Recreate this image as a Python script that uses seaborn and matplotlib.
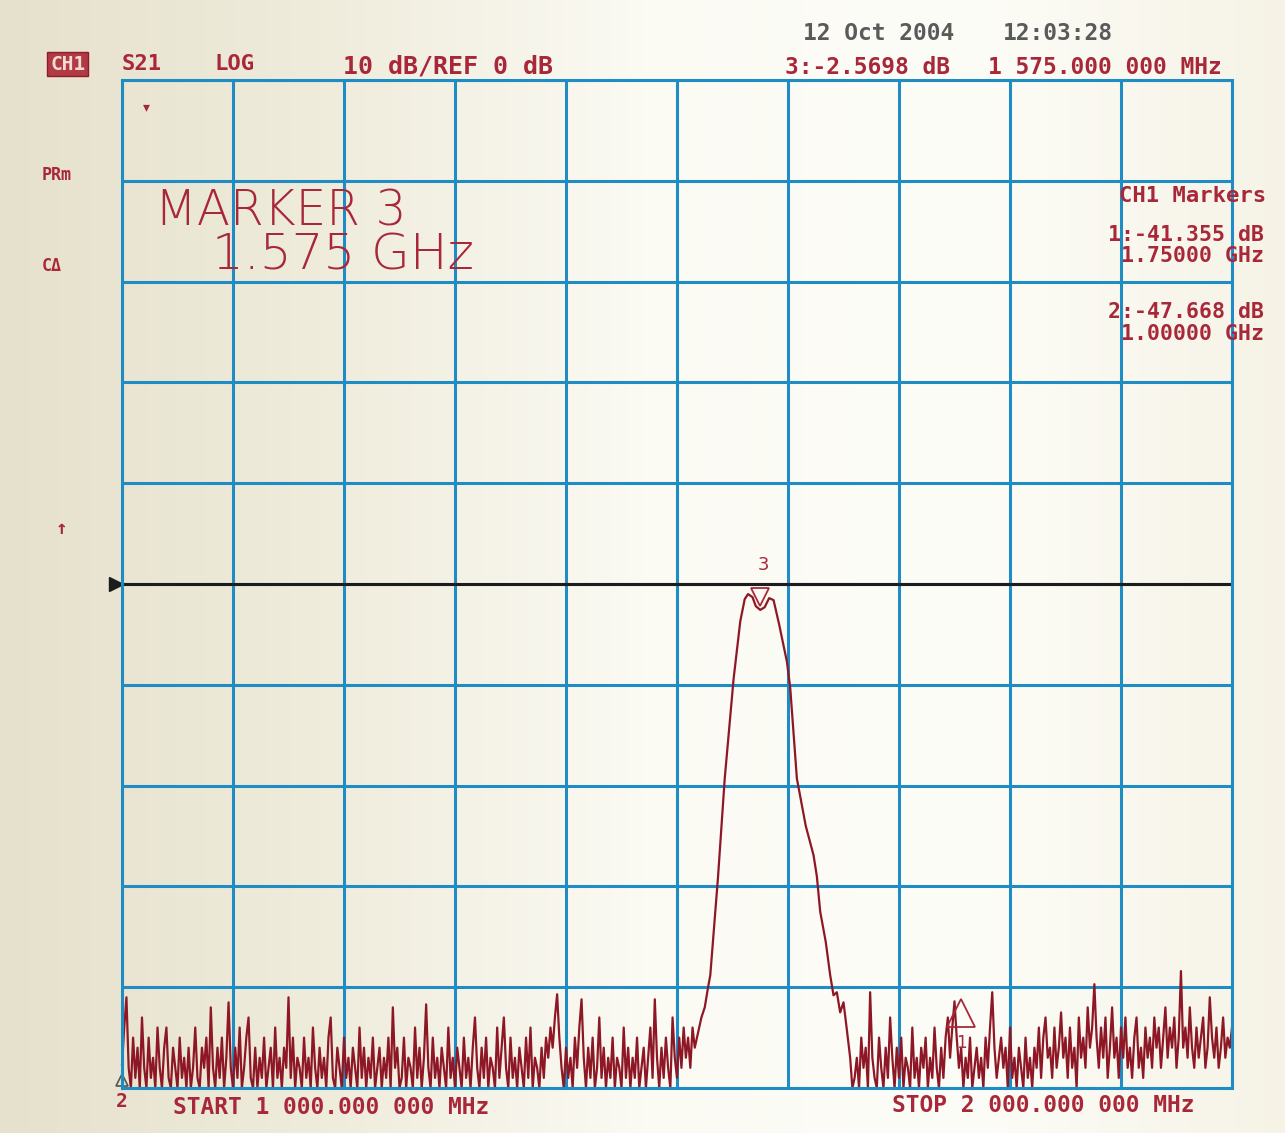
import numpy as np
import pandas as pd
import matplotlib
matplotlib.use('Agg')
import matplotlib.pyplot as plt
from matplotlib.colors import LinearSegmentedColormap
import seaborn as sns

# Sweep: 1000 - 2000 MHz, 10 dB/div, ref 0 dB
noise_low_start, noise_low_step = 1000, 2
noise_low_db = [
    -47.7, -44, -41, -48, -50, -45, -49, -46, -50, -43,
    -48, -50, -45, -49, -47, -50, -44, -48, -50, -46,
    -44, -49, -50, -46, -48, -50, -45, -49, -47, -50,
    -46, -50, -48, -44, -49, -50, -46, -48, -45, -50,
    -42, -48, -50, -46, -49, -45, -50, -47, -41.5, -48,
    -50, -46, -49, -44, -50, -48, -45, -43, -49, -50,
    -46, -50, -47, -49, -45, -50, -48, -46, -50, -44,
    -49, -47, -50, -46, -48, -41, -49, -45, -50, -47,
    -48, -50, -45, -49, -47, -50, -44, -48, -50, -46,
    -49, -47, -50, -45, -43, -49, -50, -46, -48, -50,
    -45, -49, -47, -50, -46, -48, -50, -44, -49, -46,
    -50, -47, -49, -45, -50, -48, -46, -50, -47, -49,
    -45, -50, -42, -48, -46, -50, -49, -45, -50, -47,
    -48, -50, -44, -49, -46, -50, -47, -41.7, -48, -50,
    -45, -49, -47, -50, -46, -48, -50, -44, -49, -47,
    -50, -46, -48, -50, -45, -49, -47, -50, -46, -43,
    -48, -50, -46, -49, -45, -50, -47, -48, -50, -44,
    -49, -46, -43, -48, -50, -45, -49, -47, -50, -46,
    -48, -50, -45, -49, -44, -50, -47, -48, -50, -46,
    -49, -45, -47, -44, -46, -43, -40.7, -45, -48, -50,
    -46, -49, -47, -50, -45, -48, -44, -41.2, -47, -50,
    -46, -49, -45, -50, -48, -43, -49, -46, -50, -47,
    -49, -45, -50, -47, -48, -50, -44, -49, -46, -50,
    -47, -49, -45, -50, -48, -46, -50, -47, -44, -49,
    -41.2, -47, -50, -46, -49, -45, -48, -50, -43, -47,
    -49, -45, -48, -44, -47, -45, -48, -44, -46, -45,
    -44,
]

peak_mhz = [1522, 1525, 1528, 1530, 1537, 1543, 1551, 1557, 1561, 1564,
            1568, 1571, 1575, 1579, 1583, 1587, 1592, 1599, 1602, 1608,
            1616, 1623, 1626, 1629, 1634, 1638, 1641, 1644, 1647, 1650,
            1653, 1656]
peak_db = [-43, -42, -40, -38.8, -29, -19.3, -9.4, -3.7, -1.5, -1.0,
           -1.3, -2.2, -2.57, -2.3, -1.4, -1.6, -4, -7.7, -10.3, -19.3,
           -24, -26.9, -29, -32.5, -35.5, -38.8, -40.8, -40.5, -42.5, -41.5,
           -44.2, -47]

noise_high_start, noise_high_step = 1658, 2
noise_high_db = [
    -50, -49, -47, -50, -45, -48, -46, -50, -40.5, -47,
    -49, -50, -45, -48, -50, -46, -49, -43, -47, -50,
    -46, -49, -45, -50, -47, -48, -50, -44, -49, -47,
    -50, -46, -48, -45, -50, -47, -49, -44, -48, -50,
    -46, -49, -45, -43, -47, -44, -41.4, -45, -48, -46,
    -50, -47, -49, -45, -50, -48, -46, -49, -47, -50,
    -45, -48, -44, -40.5, -46, -49, -47, -45, -48, -46,
    -50, -44, -49, -47, -50, -46, -48, -50, -45, -49,
    -47, -50, -46, -48, -44, -49, -45, -43, -47, -46,
    -49, -44, -48, -46, -42.5, -47, -45, -49, -44, -48,
    -46, -50, -43, -47, -45, -48, -42, -46, -44, -39.7,
    -45, -48, -44, -47, -43, -49, -46, -42, -47, -45,
    -49, -44, -47, -43, -48, -46, -49, -45, -43, -48,
    -46, -49, -44, -47, -45, -48, -43, -46, -44, -48,
    -45, -42, -47, -44, -46, -43, -48, -45, -38.4, -46,
    -44, -47, -42, -46, -48, -44, -47, -45, -43, -48,
    -46, -41, -45, -47, -44, -48, -46, -43, -47, -45,
    -46, -44,
]

markers = {'1': (1750, -41.355), '2': (1000, -47.668), '3': (1575, -2.5698)}

low_mhz = noise_low_start + noise_low_step * np.arange(len(noise_low_db))
high_mhz = noise_high_start + noise_high_step * np.arange(len(noise_high_db))
df = pd.DataFrame({
    'freq': np.concatenate([low_mhz, peak_mhz, high_mhz]),
    'db': np.concatenate([noise_low_db, peak_db, noise_high_db]),
})

W, H = 1285, 1133
RED = '#a8283a'
TRACE = '#8e1726'
BLUE = '#1f8cc4'


def fp(x, y):
    return x / W, 1 - y / H


fig = plt.figure(figsize=(W / 100, H / 100), dpi=100)

# paper background
bg = fig.add_axes([0, 0, 1, 1], zorder=-2)
paper = LinearSegmentedColormap.from_list(
    'paper', ['#e6e1cc', '#efecdc', '#fbfaf3', '#fdfdf8', '#f6f3e6'])
bg.imshow(np.linspace(0, 1, 256)[None, :], cmap=paper, aspect='auto',
          extent=[0, 1, 0, 1])
bg.axis('off')

ax = fig.add_axes([122 / W, 1 - 1088 / H, 1110 / W, 1008 / H])
ax.set_facecolor('none')

sns.lineplot(data=df, x='freq', y='db', color=TRACE, lw=1.6,
             estimator=None, ax=ax, clip_on=False)

ax.set_xlim(1000, 2000)
ax.set_ylim(-50, 50)
ax.set_xticks(np.arange(1000, 2001, 100))
ax.set_yticks(np.arange(-50, 51, 10))
ax.grid(True, color=BLUE, lw=2.2)
ax.set_axisbelow(True)
ax.tick_params(length=0, labelbottom=False, labelleft=False)
ax.set_xlabel('')
ax.set_ylabel('')
for s in ax.spines.values():
    s.set_color(BLUE)
    s.set_linewidth(2.2)

# reference line with arrow at the left edge
ax.axhline(0, color='#1c1c1c', lw=2.2, xmin=-0.006, clip_on=False)
ax.plot([995], [0], marker='>', ms=10, color='#1c1c1c', clip_on=False)

# markers
mx, my = markers['3']
ax.plot([mx], [my + 1.3], marker='v', ms=13, mfc='none', mec=RED,
        mew=1.3, clip_on=False)
ax.text(mx + 3, my + 4.5, '3', color=RED, fontsize=13, ha='center',
        va='center', family='DejaVu Sans')
mx, my = markers['1']
ax.plot([mx + 6], [my - 1.2], marker='^', ms=20, mfc='none', mec=RED,
        mew=1.3)
ax.text(mx + 6, my - 4.2, '1', color=RED, fontsize=12, ha='center',
        va='center', family='DejaVu Sans')
mx, my = markers['2']
ax.plot([mx], [-49.2], marker='^', ms=9, mfc='none', mec='#555555',
        mew=1.2, clip_on=False)
ax.text(mx, -51.3, '2', color=RED, fontsize=14, ha='center', va='center',
        family='DejaVu Sans Mono', fontweight='bold')
ax.text(1022, 47.3, '▾', color=RED, fontsize=10, ha='center', va='center')

mono = dict(family='DejaVu Sans Mono', fontweight='bold', color=RED)

fig.text(*fp(50, 64), 'CH1', fontsize=14, va='center', ha='left',
         family='DejaVu Sans Mono', fontweight='bold', color='#f3dcd2',
         bbox=dict(boxstyle='square,pad=0.15', fc='#b23a45', ec='#8c1c28'))
fig.text(*fp(122, 64), 'S21', fontsize=16, va='center', **mono)
fig.text(*fp(215, 64), 'LOG', fontsize=16, va='center', **mono)
fig.text(*fp(343, 66), '10 dB/REF 0 dB', fontsize=18, va='center', **mono)

fig.text(*fp(803, 33), '12 Oct 2004', fontsize=16.5, va='center',
         family='DejaVu Sans Mono', fontweight='bold', color='#5a5a5a')
fig.text(*fp(1003, 33), '12:03:28', fontsize=16.5, va='center',
         family='DejaVu Sans Mono', fontweight='bold', color='#5a5a5a')
fig.text(*fp(785, 68), '3:-2.5698 dB', fontsize=16.5, va='center', **mono)
fig.text(*fp(1222, 68), '1 575.000 000 MHz', fontsize=16.5, va='center',
         ha='right', **mono)

fig.text(*fp(1266, 196), 'CH1 Markers', fontsize=16, va='center',
         ha='right', **mono)
fig.text(*fp(1264, 235), '1:-41.355 dB', fontsize=15.5, va='center',
         ha='right', **mono)
fig.text(*fp(1264, 256), '1.75000 GHz', fontsize=15.5, va='center',
         ha='right', **mono)
fig.text(*fp(1264, 312), '2:-47.668 dB', fontsize=15.5, va='center',
         ha='right', **mono)
fig.text(*fp(1264, 334), '1.00000 GHz', fontsize=15.5, va='center',
         ha='right', **mono)

fig.text(*fp(155, 211), 'MARKER 3', fontsize=35, va='center',
         family='DejaVu Sans', fontweight='light', color=RED)
fig.text(*fp(212, 255), '1.575 GHz', fontsize=36, va='center',
         family='DejaVu Sans', fontweight='light', color=RED)

fig.text(*fp(42, 175), 'PRm', fontsize=12, va='center', **mono)
fig.text(*fp(42, 266), 'CΔ', fontsize=12, va='center', **mono)
fig.text(*fp(61, 528), '↑', fontsize=14, va='center', ha='center', **mono)

fig.text(*fp(173, 1107), 'START 1 000.000 000 MHz', fontsize=16.5,
         va='center', **mono)
fig.text(*fp(1195, 1105), 'STOP 2 000.000 000 MHz', fontsize=16.5,
         va='center', ha='right', **mono)

fig.savefig('out.png', dpi=100)
